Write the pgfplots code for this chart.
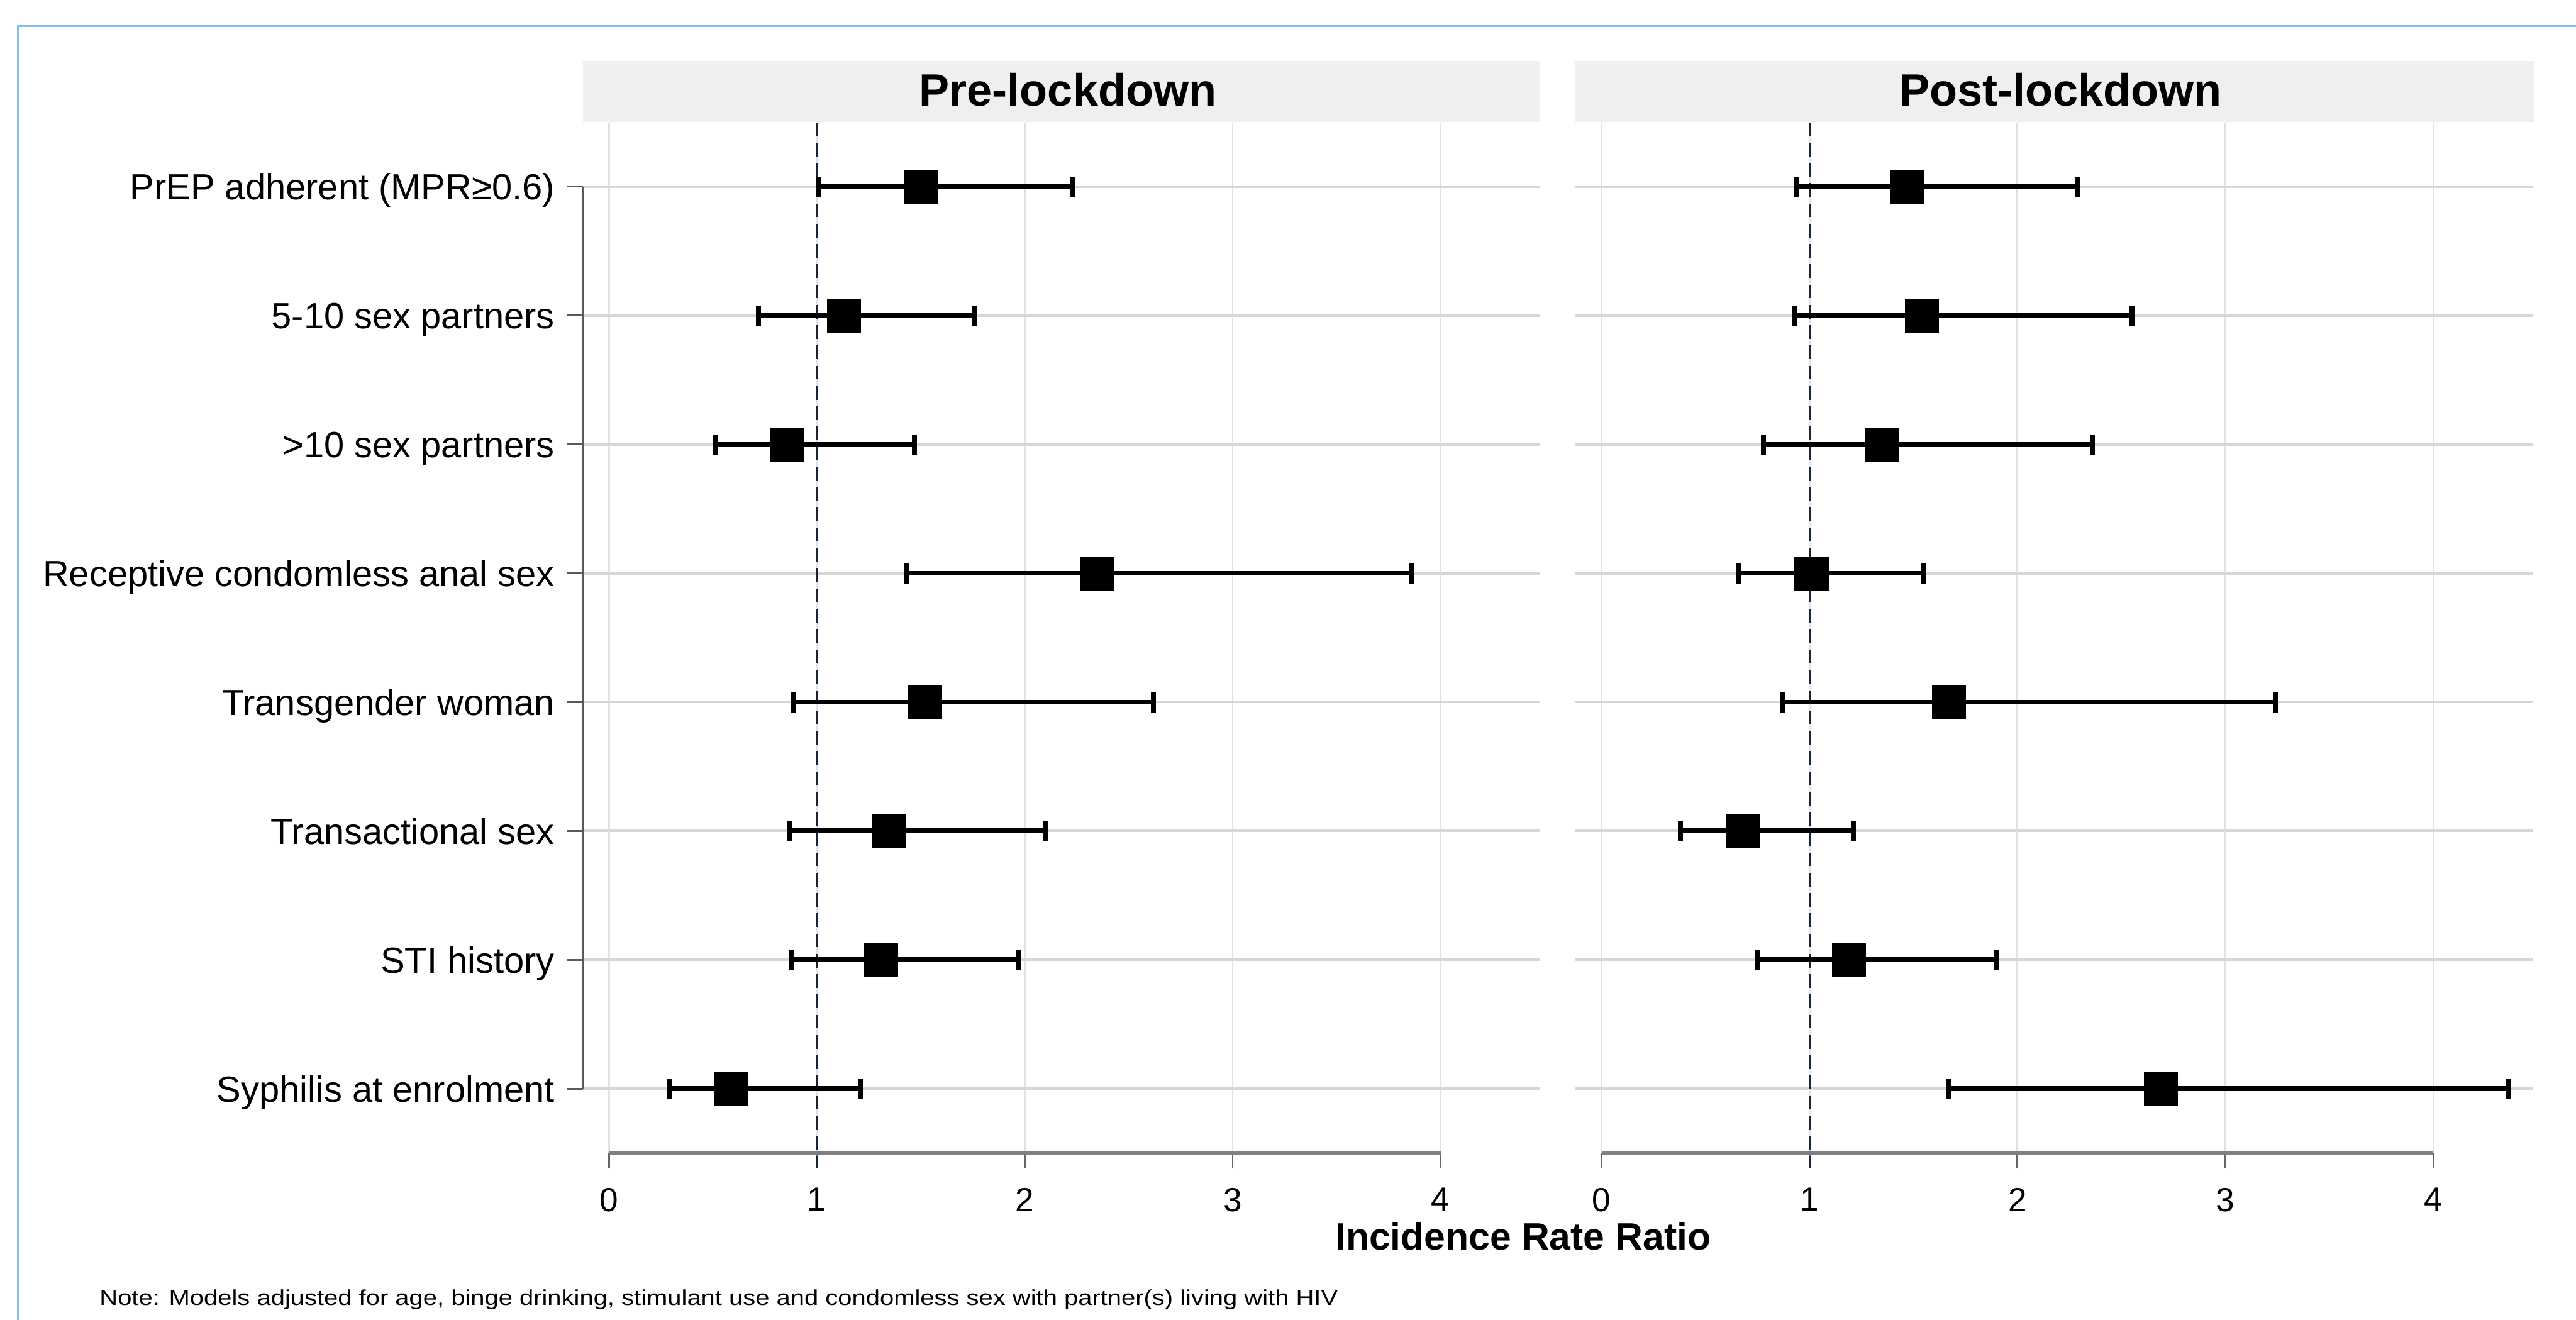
\documentclass[border=0pt]{standalone}
\usepackage{fontspec}
\setmainfont{Liberation Sans}
\usepackage{graphicx}
\usepackage{pgfplots}
\usepackage{pgfplotstable}
\pgfplotsset{compat=1.18}
\definecolor{frameblue}{RGB}{133,191,232}
\definecolor{refline}{RGB}{22,36,56}
\definecolor{headgray}{RGB}{239,239,239}
\definecolor{gridv}{RGB}{226,226,226}
\definecolor{gridh}{RGB}{214,214,214}

\pgfplotstableread{
row est lo hi
1 1.50 1.01 2.23
2 1.13 0.72 1.76
3 0.86 0.51 1.47
4 2.35 1.43 3.86
5 1.52 0.89 2.62
6 1.35 0.87 2.10
7 1.31 0.88 1.97
8 0.59 0.29 1.21
}\pre
\pgfplotstableread{
row est lo hi
1 1.47 0.94 2.29
2 1.54 0.93 2.55
3 1.35 0.78 2.36
4 1.01 0.66 1.55
5 1.67 0.87 3.24
6 0.68 0.38 1.21
7 1.19 0.75 1.90
8 2.69 1.67 4.36
}\post

\pgfplotsset{
 forest/.style={
  scale only axis, width=160.5pt, height=172.8pt, anchor=south west,
  xmin=-0.125, xmax=4.48, ymin=0.5, ymax=8.5, y dir=reverse,
  axis line style={draw=none}, clip=false,
  xtick={0,1,2,3,4}, xtick pos=bottom, ytick pos=left, tick align=outside,
  ytick={1,2,3,4,5,6,7,8},
  xmajorgrids, ymajorgrids,
  x grid style={gridv, line width=0.3pt},
  y grid style={gridh, line width=0.4pt},
  x tick style={black!60, line width=0.3pt},
  y tick style={black!65, line width=0.3pt},
  major tick length=2.6pt,
  /pgf/number format/assume math mode=true,
  xticklabel style={font=\fontsize{5.6}{6}\selectfont, yshift=0.3pt},
 },
 ciplot/.style={only marks, mark=square*, mark size=2.8pt, black,
  mark options={fill=black, draw=black, line width=0pt},
  error bars/.cd, x dir=both, x explicit, error mark=|,
  error bar style={line width=0.82pt, black},
  error mark options={black, line width=0.85pt, mark size=1.7pt}},
}

\begin{document}
\begin{tikzpicture}
\useasboundingbox (0,0) rectangle (431.8pt,221.2pt);
\draw[frameblue, line width=0.4pt] (3.0pt,-5pt) -- (3.0pt,216.9pt) -- (440pt,216.9pt);

% headers
\fill[headgray] (97.7pt,200.7pt) rectangle (258.2pt,211.0pt);
\fill[headgray] (264.1pt,200.7pt) rectangle (424.7pt,211.0pt);
\node[anchor=base, inner sep=0] at (179.0pt,203.4pt) {\fontsize{7.6}{8}\selectfont\bfseries Pre-lockdown};
\node[anchor=base, inner sep=0] at (345.4pt,203.4pt) {\fontsize{7.6}{8}\selectfont\bfseries Post-lockdown};

\begin{axis}[forest, at={(97.7pt,27.9pt)},
  yticklabels={PrEP adherent (MPR≥0.6), 5-10 sex partners, >10 sex partners, Receptive condomless anal sex, Transgender woman, Transactional sex, STI history, Syphilis at enrolment},
  yticklabel style={font=\fontsize{6.1}{7}\selectfont, anchor=base east, yshift=-2.2pt, xshift=1.4pt},
]
\draw[black!65, line width=0.3pt] (axis cs:-0.125,1) -- (axis cs:-0.125,8);
\draw[black!50, line width=0.5pt] (axis cs:0,8.5) -- (axis cs:4,8.5);
\draw[refline, line width=0.35pt, dash pattern=on 2.3pt off 1.1pt] (axis cs:1,0.5) -- ([yshift=-2.6pt]axis cs:1,8.5);
\addplot[ciplot] table[x=est, y=row, x error minus expr=\thisrow{est}-\thisrow{lo}, x error plus expr=\thisrow{hi}-\thisrow{est}] {\pre};
\end{axis}

\begin{axis}[forest, at={(264.1pt,27.9pt)},
  yticklabels={}, y tick style={draw=none},
]
\draw[black!50, line width=0.5pt] (axis cs:0,8.5) -- (axis cs:4,8.5);
\draw[refline, line width=0.35pt, dash pattern=on 2.3pt off 1.1pt] (axis cs:1,0.5) -- ([yshift=-2.6pt]axis cs:1,8.5);
\addplot[ciplot] table[x=est, y=row, x error minus expr=\thisrow{est}-\thisrow{lo}, x error plus expr=\thisrow{hi}-\thisrow{est}] {\post};
\end{axis}

\node[anchor=base, inner sep=0] at (255.3pt,11.7pt) {\fontsize{6.4}{7}\selectfont\bfseries Incidence Rate Ratio};
\node[anchor=base west, inner sep=0] at (16.5pt,2.4pt) {\scalebox{1.17}[1]{\fontsize{3.6}{4}\selectfont Note: Models adjusted for age, binge drinking, stimulant use and condomless sex with partner(s) living with HIV}};
\end{tikzpicture}
\end{document}
